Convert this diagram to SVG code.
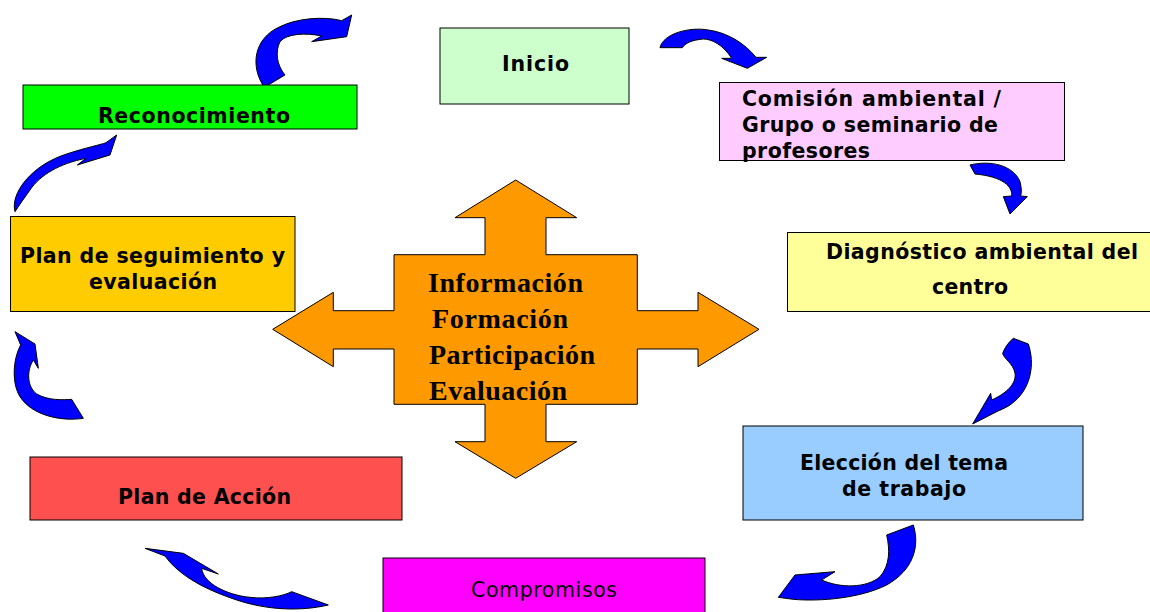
<svg xmlns="http://www.w3.org/2000/svg" width="1150" height="612" viewBox="0 0 1150 612">
<style>
.box{stroke:#000;stroke-width:1}
.t{font-family:"DejaVu Sans","Verdana",sans-serif;font-weight:bold;font-size:20.5px;fill:#000}
.tn{font-family:"DejaVu Sans","Verdana",sans-serif;font-size:20.5px;fill:#000}
.ct{font-family:"Liberation Serif","Times New Roman",serif;font-weight:bold;font-size:28px;fill:#000}
.arc{fill:#0000FF;stroke:#000;stroke-width:3;stroke-linejoin:round}
</style>
<rect width="1150" height="612" fill="#fff"/>
<g id="connectors">
<path class="arc" transform="translate(240,0) scale(0.33333)" d="M 73,262 C 30,200 40,115 120,80 C 170,55 250,48 305,62 L 335,45 L 320,110 L 215,125 L 245,108 C 200,98 140,100 120,125 C 105,155 110,195 135,225 Z"/>
<path class="arc" transform="translate(650,25) scale(0.33333)" d="M 30,68 C 40,25 120,5 175,15 C 230,22 285,55 318,97 L 350,97 L 292,130 L 215,100 L 245,100 C 220,60 185,42 160,42 C 125,45 105,55 97,68 Z"/>
<path class="arc" transform="translate(950,150) scale(0.33333)" d="M 60,45 C 120,30 190,45 210,95 C 215,115 215,128 212,138 L 232,140 L 180,192 L 160,140 L 185,138 C 188,110 160,80 75,72 Z"/>
<path class="arc" transform="translate(960,330) scale(0.33333)" d="M 160,25 L 205,42 C 225,100 215,180 150,225 C 135,235 120,240 110,245 L 38,282 L 92,190 L 95,210 C 140,190 170,160 165,130 C 160,100 130,85 128,70 C 135,50 148,35 160,25 Z"/>
<path class="arc" transform="translate(760,520) scale(0.33333)" d="M 380,45 L 460,15 C 480,80 460,150 380,195 C 300,235 180,245 100,238 L 55,232 L 105,165 L 225,155 L 185,180 C 240,205 320,205 360,170 C 390,135 390,90 380,45 Z"/>
<path class="arc" transform="translate(140,540) scale(0.33333)" d="M 15,25 L 130,40 L 235,102 L 185,85 C 190,130 260,165 330,172 C 380,178 430,168 455,155 L 565,195 C 480,215 380,210 290,180 C 200,150 120,110 75,48 Z"/>
<path class="arc" transform="translate(0,320) scale(0.33333)" d="M 45,35 L 105,72 L 115,145 L 100,120 C 80,150 80,200 110,222 C 145,242 190,240 215,238 L 250,295 C 180,305 95,285 60,230 C 35,190 38,120 62,75 Z"/>
<path class="arc" transform="translate(0,130) scale(0.33333)" d="M 45,245 C 30,190 95,105 200,72 C 260,52 300,45 318,38 L 350,15 L 330,75 L 232,105 L 258,85 C 180,100 120,135 90,180 C 72,205 58,225 45,245 Z"/>
</g>
<g id="centro">
<path d="M 515.7,180 L 576.7,217.7 L 546,217.7 L 546,254.7 L 637.3,254.7 L 637.3,310.7 L 698,310.7 L 698,292.3 L 759,329.3 L 698,366.7 L 698,349 L 637.3,349 L 637.3,404.3 L 546,404.3 L 546,441.7 L 576.7,441.7 L 515.7,478.3 L 455,441.7 L 485,441.7 L 485,404.3 L 394,404.3 L 394,349 L 333.3,349 L 333.3,366.7 L 272.7,329.3 L 333.3,292.3 L 333.3,310.7 L 394,310.7 L 394,254.7 L 485,254.7 L 485,217.7 L 455,217.7 Z" fill="#FF9900" stroke="#000" stroke-width="1"/>
<text class="ct" x="428" y="292" textLength="155">Información</text>
<text class="ct" x="432" y="328" textLength="136">Formación</text>
<text class="ct" x="429" y="364" textLength="166">Participación</text>
<text class="ct" x="429" y="400" textLength="138">Evaluación</text>
</g>
<g id="inicio">
<rect class="box" x="440" y="28" width="189" height="76" fill="#CCFFCC"/>
<text class="t" x="502" y="71" textLength="67">Inicio</text>
</g>
<g id="comision">
<rect class="box" x="719.5" y="82.5" width="345" height="78" fill="#FFCCFF"/>
<text class="t" x="742" y="106" textLength="259">Comisión ambiental /</text>
<text class="t" x="742" y="132" textLength="256">Grupo o seminario de</text>
<text class="t" x="742" y="158" textLength="128">profesores</text>
</g>
<g id="diagnostico">
<rect class="box" x="787.5" y="232.5" width="370" height="79" fill="#FFFF99"/>
<text class="t" x="826" y="259" textLength="312">Diagnóstico ambiental del</text>
<text class="t" x="932" y="294" textLength="76">centro</text>
</g>
<g id="eleccion">
<rect class="box" x="743" y="426" width="340" height="94" fill="#99CCFF"/>
<text class="t" x="800" y="470" textLength="208">Elección del tema</text>
<text class="t" x="842" y="496" textLength="124">de trabajo</text>
</g>
<g id="compromisos">
<rect class="box" x="383" y="558" width="322" height="60" fill="#FF00FF"/>
<text class="tn" x="471" y="597" textLength="146">Compromisos</text>
</g>
<g id="plan-accion">
<rect class="box" x="30" y="457" width="372" height="63" fill="#FF5050"/>
<text class="t" x="118" y="504" textLength="173">Plan de Acción</text>
</g>
<g id="plan-seguimiento">
<rect class="box" x="10.5" y="216.5" width="284.5" height="95" fill="#FFCC00"/>
<text class="t" x="20" y="263" textLength="265">Plan de seguimiento y</text>
<text class="t" x="89" y="289" textLength="128">evaluación</text>
</g>
<g id="reconocimiento">
<rect class="box" x="23" y="85" width="334" height="44" fill="#00FF00"/>
<text class="t" x="98" y="123" textLength="192">Reconocimiento</text>
</g>
</svg>
